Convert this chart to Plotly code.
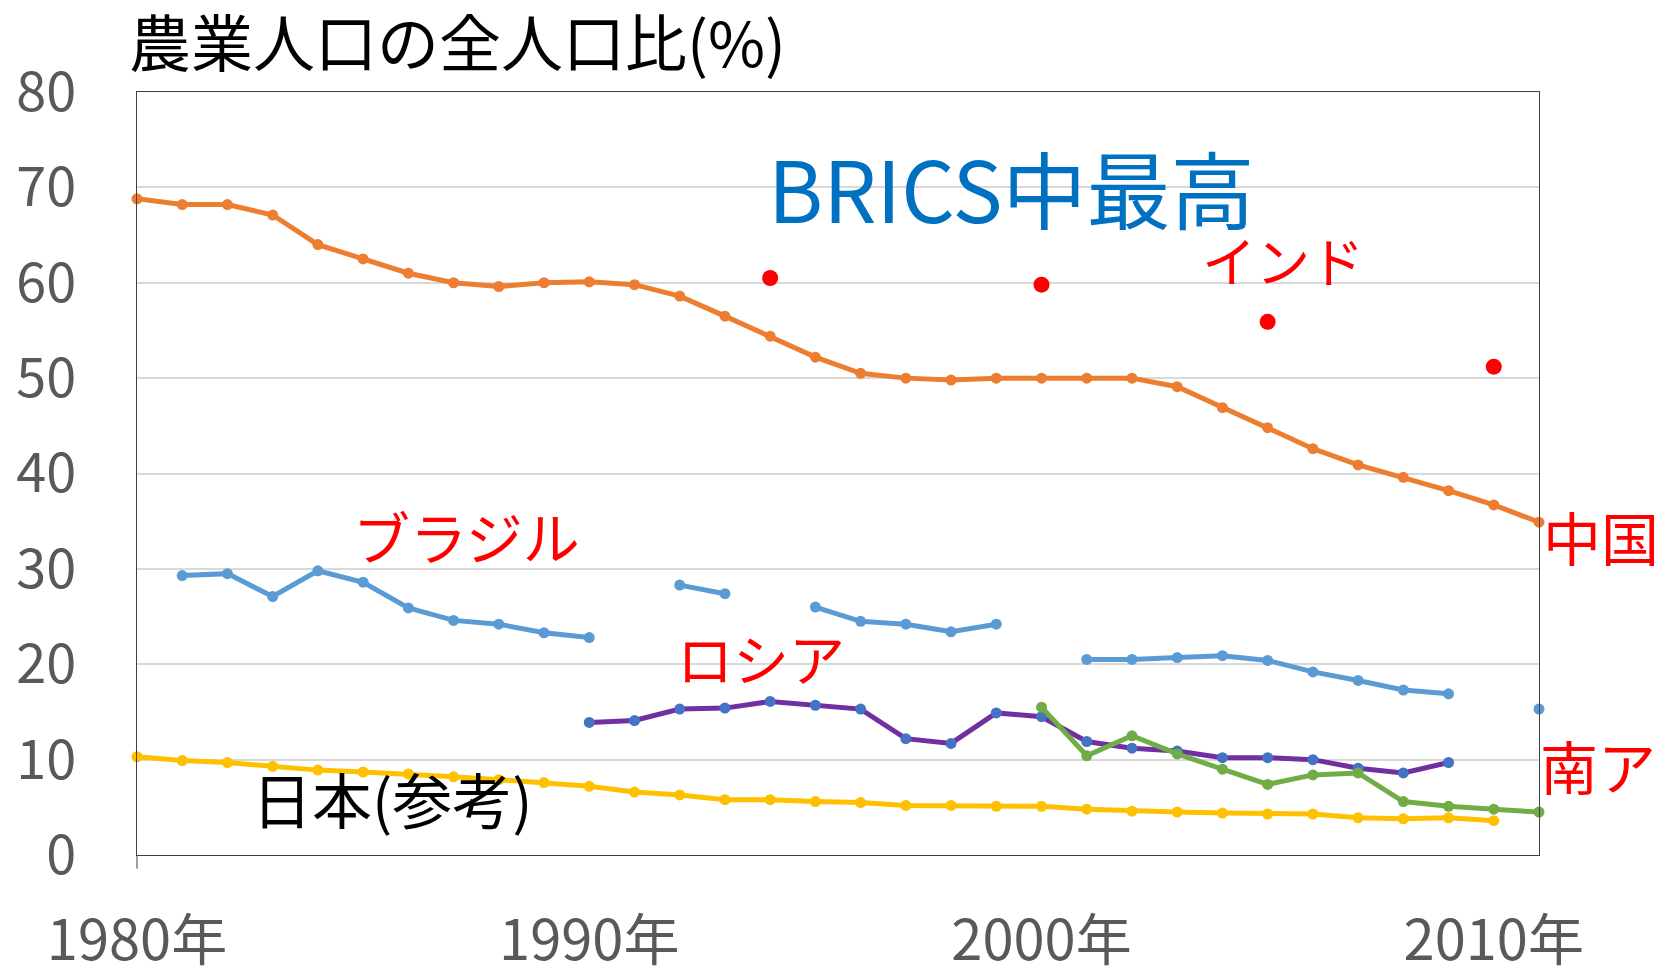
import plotly.graph_objects as go

years = list(range(1980, 2012))
china = [68.8, 68.2, 68.2, 67.1, 64.0, 62.5, 61.0, 60.0, 59.6, 60.0, 60.1, 59.8, 58.6, 56.5, 54.4, 52.2,
         50.5, 50.0, 49.8, 50.0, 50.0, 50.0, 50.0, 49.1, 46.9, 44.8, 42.6, 40.9, 39.6, 38.2, 36.7, 34.9]
brazil = [None, 29.3, 29.5, 27.1, 29.8, 28.6, 25.9, 24.6, 24.2, 23.3, 22.8, None, 28.3, 27.4, None, 26.0,
          24.5, 24.2, 23.4, 24.2, None, 20.5, 20.5, 20.7, 20.9, 20.4, 19.2, 18.3, 17.3, 16.9, None, 15.3]
russia_years = list(range(1990, 2010))
russia = [13.9, 14.1, 15.3, 15.4, 16.1, 15.7, 15.3, 12.2, 11.7, 14.9, 14.5, 11.9, 11.2, 10.9, 10.2, 10.2,
          10.0, 9.1, 8.6, 9.7]
sa_years = list(range(2000, 2012))
south_africa = [15.5, 10.4, 12.5, 10.6, 9.0, 7.4, 8.4, 8.6, 5.6, 5.1, 4.8, 4.5]
japan_years = list(range(1980, 2011))
japan = [10.3, 9.9, 9.7, 9.3, 8.9, 8.7, 8.5, 8.2, 7.9, 7.6, 7.2, 6.6, 6.3, 5.8, 5.8, 5.6, 5.5, 5.2, 5.2,
         5.1, 5.1, 4.8, 4.6, 4.5, 4.4, 4.3, 4.3, 3.9, 3.8, 3.9, 3.6]
india_years = [1994, 2000, 2005, 2010]
india = [60.5, 59.8, 55.9, 51.2]

x_tickvals = [1980, 1990, 2000, 2010]
x_ticktext = ["1980年", "1990年", "2000年", "2010年"]
y_tickvals = [0, 10, 20, 30, 40, 50, 60, 70, 80]

FONT = "Noto Sans CJK JP, Noto Sans, sans-serif"

fig = go.Figure()

def line_trace(x, y, lc, mc, lw=5, ms=11):
    fig.add_trace(go.Scatter(x=x, y=y, mode="lines+markers",
                             line=dict(color=lc, width=lw),
                             marker=dict(color=mc, size=ms),
                             connectgaps=False, cliponaxis=False, showlegend=False))

line_trace(years, brazil, "#5B9BD5", "#5B9BD5")
line_trace(japan_years, japan, "#FFC000", "#FFC000")
line_trace(russia_years, russia, "#7030A0", "#4472C4")
line_trace(sa_years, south_africa, "#70AD47", "#70AD47")
line_trace(years, china, "#ED7D31", "#ED7D31")
fig.add_trace(go.Scatter(x=india_years, y=india, mode="markers",
                         marker=dict(color="#FF0000", size=16),
                         cliponaxis=False, showlegend=False))

def label(x, y, text, color, size, anchor="center", ref="data"):
    xr, yr = ("x", "y") if ref == "data" else ("paper", "paper")
    fig.add_annotation(x=x, y=y, xref=xr, yref=yr, text=text, showarrow=False,
                       xanchor=anchor, yanchor="middle",
                       font=dict(family=FONT, size=size, color=color))

label(-0.007, 1.068, "農業人口の全人口比(%)", "#000000", 62, anchor="left", ref="paper")
label(1999.33, 70.1, "BRICS中最高", "#0070C0", 84)
label(2005.33, 62.4, "インド", "#FF0000", 54)
label(1987.28, 33.6, "ブラジル", "#FF0000", 57)
label(1993.8, 20.8, "ロシア", "#FF0000", 56)
label(1.044, 0.418, "中国", "#FF0000", 58, ref="paper")
label(1.042, 0.118, "南ア", "#FF0000", 58, ref="paper")
label(1985.64, 6.0, "日本(参考)", "#000000", 60)

# small tick below the left axis
fig.add_shape(type="line", xref="paper", yref="paper", x0=0, x1=0, y0=0, y1=-0.018,
              line=dict(color="#404040", width=1))

fig.update_layout(
    width=1662, height=966,
    margin=dict(l=137, r=123, t=92, b=111, autoexpand=False),
    paper_bgcolor="white", plot_bgcolor="white",
    font=dict(family=FONT),
    showlegend=False,
)
fig.update_xaxes(range=[1980, 2011], tickvals=x_tickvals, ticktext=x_ticktext,
                 showgrid=False, zeroline=False, showline=True, mirror=True,
                 linecolor="#404040", linewidth=1, ticks="",
                 tickfont=dict(family=FONT, size=56, color="#595959"),
                 ticklabelstandoff=37, automargin=False)
fig.update_yaxes(range=[0, 80], tickvals=y_tickvals,
                 showgrid=True, gridcolor="#D9D9D9", gridwidth=1.5, zeroline=False,
                 showline=True, mirror=True, linecolor="#404040", linewidth=1, ticks="",
                 tickfont=dict(family=FONT, size=54, color="#595959"),
                 ticklabelstandoff=49, automargin=False)

fig.write_html("out.html", config={"displayModeBar": False},
               post_script="document.body.style.margin='0';document.body.style.overflow='hidden';")
